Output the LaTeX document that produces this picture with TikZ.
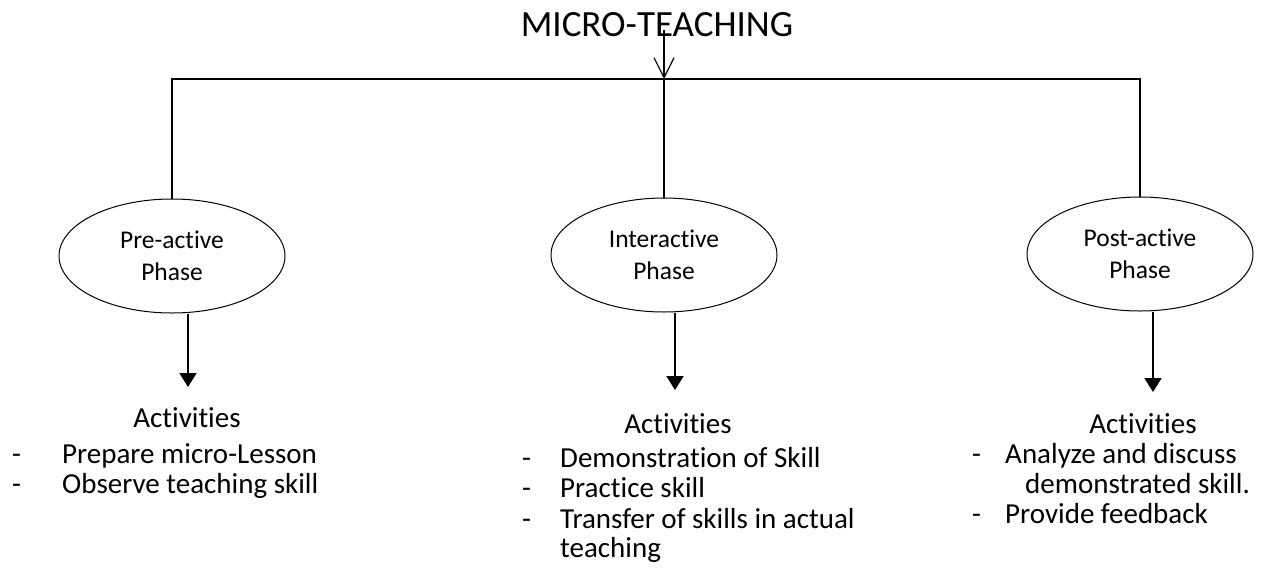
\documentclass[tikz,border=0pt]{standalone}
\usepackage{fontspec}
\setmainfont[Ligatures=NoCommon]{Carlito}
\usetikzlibrary{shapes.geometric,arrows.meta}

\begin{document}
\begin{tikzpicture}[x=1pt,y=-1pt,
  phase/.style={ellipse,draw,line width=1pt,minimum width=226pt,minimum height=114pt,
    inner sep=0pt,align=center,font=\fontsize{25.5}{32}\selectfont},
  txt/.style={inner sep=0pt,font=\fontsize{29}{30}\selectfont},
  link/.style={line width=1.5pt},
  drop/.style={line width=1.8pt,-{Triangle[length=14pt,width=17pt]}}]
\useasboundingbox (0,0) rectangle (1285,579);

% title and the arrow coming down into the bar
\node[anchor=base,inner sep=0pt,font=\fontsize{37}{44}\selectfont] (title) at (657,36) {MICRO-TEACHING};
\coordinate (top) at (664,30);
\coordinate (hub) at (664,79);
\draw[line width=1.2pt,-{Straight Barb[length=20pt,width=20pt]}] (top) -- (hub);

% the three phases
\node[phase] (pre) at (172,256) {Pre-active\\Phase};
\node[phase] (inter) at (664,255) {Interactive\\Phase};
\node[phase] (post) at (1140,254) {Post-active\\Phase};

\draw[link] (pre.north) |- (hub) -| (post.north);
\draw[link] (hub) -- (inter.north);

% arrows down to the activities
\coordinate (pretip) at (188,387);
\coordinate (intertip) at (675,390);
\coordinate (posttip) at (1153,392);
\draw[drop] (pre.south -| pretip) -- (pretip);
\draw[drop] (inter.south -| intertip) -- (intertip);
\draw[drop] (post.south -| posttip) -- (posttip);

% pre-active activities
\node[txt,anchor=base] (preact) at (187,427) {Activities};
\foreach \y/\t [count=\i] in {463/Prepare micro-Lesson,493/Observe teaching skill}{
  \node[txt,anchor=base west] (predash\i) at (12,\y) {-};
  \node[txt,anchor=base west] (pre\i) at (62,\y) {\t};
}

% interactive activities
\node[txt,anchor=base] (interact) at (678,433) {Activities};
\foreach \y/\t [count=\i] in {467/Demonstration of Skill,497/Practice skill,528/Transfer of skills in actual}{
  \node[txt,anchor=base west] (interdash\i) at (522,\y) {-};
  \node[txt,anchor=base west] (inter\i) at (560,\y) {\t};
}
\node[txt,anchor=base west] (inter4) at (560,557) {teaching};

% post-active activities
\node[txt,anchor=base] (postact) at (1143,433) {Activities};
\node[txt,anchor=base west] (postdash1) at (972,463) {-};
\node[txt,anchor=base west] (post1) at (1005,463) {Analyze and discuss};
\node[txt,anchor=base west] (post2) at (1025,493) {demonstrated skill.};
\node[txt,anchor=base west] (postdash3) at (972,523) {-};
\node[txt,anchor=base west] (post3) at (1005,523) {Provide feedback};
\end{tikzpicture}
\end{document}
